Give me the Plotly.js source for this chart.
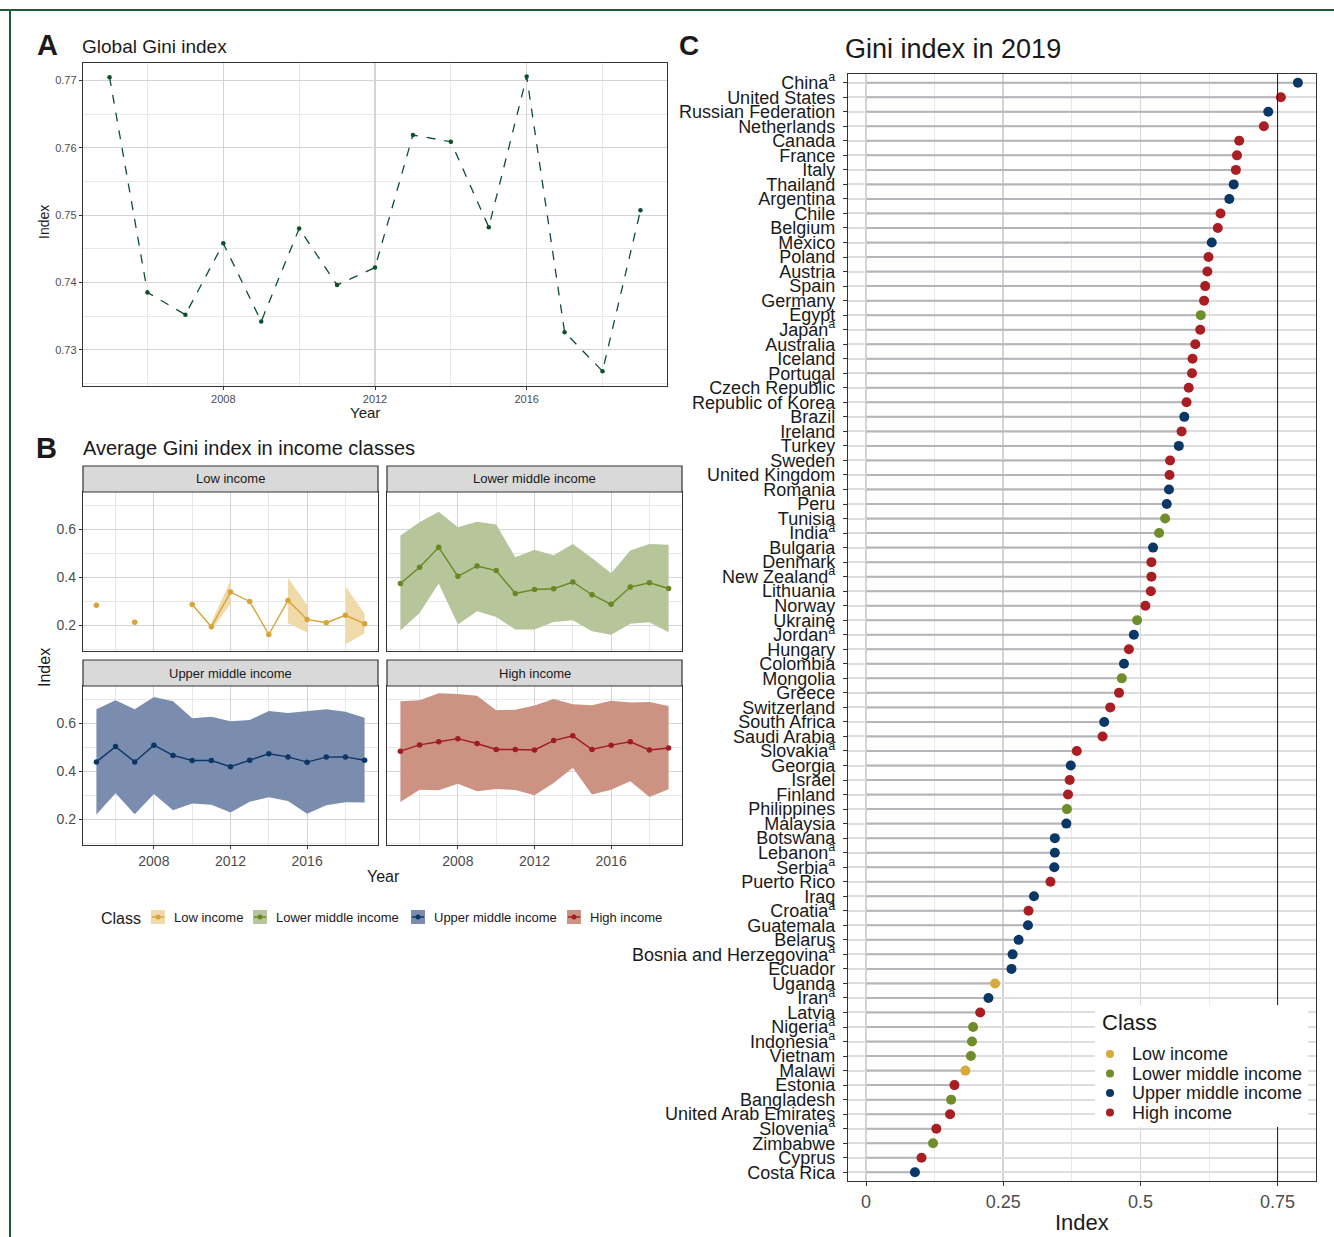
<!DOCTYPE html>
<html><head><meta charset="utf-8">
<script src="https://cdn.plot.ly/plotly-3.0.1.min.js"></script>
<style>html,body{margin:0;padding:0;background:#fff}#chart{width:1334px;height:1237px}</style>
</head><body><div id="chart"></div>
<script>
// ---------- DATA ----------
const years = [2005,2006,2007,2008,2009,2010,2011,2012,2013,2014,2015,2016,2017,2018,2019];
const globalGini = [0.7705,0.7385,0.7352,0.7458,0.7342,0.7480,0.7396,0.7422,0.7619,0.7609,0.7482,0.7706,0.7326,0.7268,0.7507];

const classNames = ['Low income','Lower middle income','Upper middle income','High income'];
const classCodes = ['L','LM','UM','H'];

const lowMean  = [0.284,null,0.213,null,null,0.287,0.194,0.339,0.300,0.162,0.304,0.225,0.211,0.242,0.207];
const lowLower = [null,null,null,null,null,null,0.178,0.291,null,null,0.209,0.170,null,0.121,0.167];
const lowUpper = [null,null,null,null,null,null,0.212,0.387,null,null,0.399,0.285,null,0.363,0.249];

const lmMean  = [0.375,0.443,0.526,0.405,0.448,0.429,0.333,0.350,0.353,0.381,0.328,0.288,0.360,0.378,0.354];
const lmLower = [0.179,0.252,0.375,0.204,0.259,0.235,0.183,0.183,0.214,0.221,0.175,0.161,0.207,0.213,0.171];
const lmUpper = [0.575,0.631,0.675,0.610,0.633,0.621,0.484,0.516,0.493,0.540,0.481,0.418,0.513,0.540,0.537];

const umMean  = [0.440,0.504,0.440,0.510,0.467,0.446,0.446,0.420,0.447,0.474,0.461,0.439,0.460,0.461,0.447];
const umLower = [0.220,0.309,0.221,0.306,0.238,0.266,0.261,0.229,0.274,0.292,0.277,0.224,0.259,0.272,0.270];
const umUpper = [0.660,0.698,0.660,0.711,0.693,0.622,0.629,0.610,0.615,0.653,0.644,0.651,0.660,0.649,0.624];

const hiMean  = [0.485,0.511,0.524,0.537,0.517,0.492,0.492,0.490,0.529,0.549,0.492,0.510,0.524,0.490,0.498];
const hiLower = [0.273,0.324,0.322,0.349,0.317,0.327,0.323,0.301,0.352,0.416,0.304,0.324,0.359,0.293,0.326];
const hiUpper = [0.693,0.698,0.727,0.724,0.716,0.656,0.658,0.676,0.703,0.681,0.677,0.695,0.688,0.690,0.673];

const countries = ['China','United States','Russian Federation','Netherlands','Canada','France','Italy','Thailand','Argentina','Chile','Belgium','Mexico','Poland','Austria','Spain','Germany','Egypt','Japan','Australia','Iceland','Portugal','Czech Republic','Republic of Korea','Brazil','Ireland','Turkey','Sweden','United Kingdom','Romania','Peru','Tunisia','India','Bulgaria','Denmark','New Zealand','Lithuania','Norway','Ukraine','Jordan','Hungary','Colombia','Mongolia','Greece','Switzerland','South Africa','Saudi Arabia','Slovakia','Georgia','Israel','Finland','Philippines','Malaysia','Botswana','Lebanon','Serbia','Puerto Rico','Iraq','Croatia','Guatemala','Belarus','Bosnia and Herzegovina','Ecuador','Uganda','Iran','Latvia','Nigeria','Indonesia','Vietnam','Malawi','Estonia','Bangladesh','United Arab Emirates','Slovenia','Zimbabwe','Cyprus','Costa Rica'];
const gini2019 = [0.787,0.756,0.733,0.725,0.680,0.676,0.674,0.670,0.662,0.646,0.641,0.630,0.624,0.622,0.618,0.616,0.610,0.609,0.600,0.595,0.594,0.588,0.584,0.580,0.575,0.570,0.554,0.553,0.552,0.548,0.545,0.534,0.523,0.520,0.520,0.519,0.509,0.494,0.488,0.479,0.470,0.466,0.461,0.445,0.434,0.431,0.384,0.373,0.371,0.368,0.366,0.365,0.344,0.344,0.343,0.336,0.306,0.296,0.295,0.278,0.267,0.265,0.235,0.223,0.208,0.195,0.193,0.191,0.181,0.161,0.155,0.153,0.128,0.122,0.101,0.089];
const countryClass = ['UM','H','UM','H','H','H','H','UM','UM','H','H','UM','H','H','H','H','LM','H','H','H','H','H','H','UM','H','UM','H','H','UM','UM','LM','LM','UM','H','H','H','H','LM','UM','H','UM','LM','H','H','UM','H','H','UM','H','H','LM','UM','UM','UM','UM','H','UM','H','UM','UM','UM','UM','L','UM','H','LM','LM','LM','L','H','LM','H','H','LM','H','UM'];
const footnoteA = ['China','Japan','India','New Zealand','Jordan','Slovakia','Lebanon','Serbia','Croatia','Bosnia and Herzegovina','Iran','Nigeria','Indonesia','Slovenia'];

// ---------- STYLE ----------
const W = 1334, H = 1237;
const FONT = 'Liberation Sans, Arial, Helvetica, sans-serif';
const lineColors   = ['#D6A43A','#6B8723','#0B3766','#A01C22'];
const ribbonColors = ['#F0DAAA','#B7C59A','#7B8DAF','#CC9383'];
const dotColors    = ['#D9A93A','#6F8D2A','#0B3766','#A81E22'];
const fx = p => p / W;
const fy = p => 1 - p / H;

const traces = [];

// Panel A
traces.push({
  x: years, y: globalGini, xaxis: 'x', yaxis: 'y', type: 'scatter', mode: 'lines+markers',
  line: {color: '#0E4F2C', width: 1.3, dash: 'dash'},
  marker: {color: '#0E4F2C', size: 4.5}, showlegend: false, hoverinfo: 'skip'
});

// Panel B
const panelB = [
  {mean: lowMean, lo: lowLower, hi: lowUpper, ax: ['x2','y2']},
  {mean: lmMean,  lo: lmLower,  hi: lmUpper,  ax: ['x3','y3']},
  {mean: umMean,  lo: umLower,  hi: umUpper,  ax: ['x4','y4']},
  {mean: hiMean,  lo: hiLower,  hi: hiUpper,  ax: ['x5','y5']}
];
panelB.forEach((p, ci) => {
  let seg = [];
  const flush = () => {
    if (seg.length >= 2) {
      const rev = seg.slice().reverse();
      const xs = seg.map(i => years[i]).concat(rev.map(i => years[i]));
      const ys = seg.map(i => p.hi[i]).concat(rev.map(i => p.lo[i]));
      traces.push({x: xs, y: ys, xaxis: p.ax[0], yaxis: p.ax[1], type: 'scatter', mode: 'lines',
        fill: 'toself', fillcolor: ribbonColors[ci], line: {width: 0}, showlegend: false, hoverinfo: 'skip'});
    }
    seg = [];
  };
  years.forEach((yr, i) => {
    if (p.lo[i] !== null && p.hi[i] !== null) seg.push(i); else flush();
  });
  flush();
  traces.push({x: years, y: p.mean, xaxis: p.ax[0], yaxis: p.ax[1], type: 'scatter', mode: 'lines+markers',
    connectgaps: false, line: {color: lineColors[ci], width: 1.4}, marker: {color: lineColors[ci], size: 5.5},
    showlegend: false, hoverinfo: 'skip'});
});

// Panel C stems + dots
const stemX = [], stemY = [];
countries.forEach((c, i) => { stemX.push(0, gini2019[i], null); stemY.push(c, c, null); });
traces.push({x: stemX, y: stemY, xaxis: 'x6', yaxis: 'y6', type: 'scatter', mode: 'lines',
  line: {color: '#B4B4BA', width: 2}, showlegend: false, hoverinfo: 'skip'});
classCodes.forEach((code, ci) => {
  const idx = countries.map((c, i) => i).filter(i => countryClass[i] === code);
  traces.push({x: idx.map(i => gini2019[i]), y: idx.map(i => countries[i]), xaxis: 'x6', yaxis: 'y6',
    type: 'scatter', mode: 'markers', name: classNames[ci], showlegend: false,
    marker: {color: dotColors[ci], size: 10}, hoverinfo: 'skip'});
});

// ---------- LAYOUT ----------
const baseAxis = {
  showline: true, mirror: true, linecolor: '#333', linewidth: 1.2,
  ticks: 'outside', ticklen: 3, tickcolor: '#333', tickwidth: 1,
  gridcolor: '#D4D4D4', gridwidth: 1.1, zeroline: false,
  tickfont: {family: FONT, color: '#4D4D4D', size: 14}
};
const minorGrid = vals => ({tickvals: vals, showgrid: true, gridcolor: '#E6E6E6', gridwidth: 0.9, ticks: ''});
const yearAxis = (dom, labels) => Object.assign({}, baseAxis, {
  domain: dom, range: [2004.3, 2019.7], tickvals: [2008, 2012, 2016],
  showticklabels: labels, ticks: labels ? 'outside' : '',
  minor: minorGrid([2006, 2010, 2014, 2018])
});
const bYAxis = (dom, labels, anchor) => Object.assign({}, baseAxis, {
  domain: dom, range: [0.093, 0.757], tickvals: [0.2, 0.4, 0.6], ticktext: ['0.2','0.4','0.6'],
  showticklabels: labels, ticks: labels ? 'outside' : '', anchor: anchor,
  minor: minorGrid([0.1, 0.3, 0.5, 0.7])
});

const colL = [fx(83), fx(378)], colR = [fx(387), fx(682)];
const row1 = [fy(651), fy(492)], row2 = [fy(845), fy(686)];

const countryTicks = countries.map(c => footnoteA.includes(c) ? c + '<sup>a</sup>' : c);

const layout = {
  width: W, height: H, margin: {l: 0, r: 0, t: 0, b: 0},
  paper_bgcolor: '#fff', plot_bgcolor: '#fff',
  font: {family: FONT, color: '#1a1a1a'},
  showlegend: false,
  xaxis: Object.assign({}, baseAxis, {domain: [fx(83), fx(667)], anchor: 'y', range: [2004.3, 2019.7],
    tickvals: [2008, 2012, 2016], tickfont: {family: FONT, color: '#4D4D4D', size: 11},
    minor: minorGrid([2006, 2010, 2014, 2018])}),
  yaxis: Object.assign({}, baseAxis, {domain: [fy(386), fy(63)], anchor: 'x', range: [0.7246, 0.7726],
    tickvals: [0.73, 0.74, 0.75, 0.76, 0.77], ticktext: ['0.73','0.74','0.75','0.76','0.77'],
    tickfont: {family: FONT, color: '#4D4D4D', size: 11},
    minor: minorGrid([0.725, 0.735, 0.745, 0.755, 0.765])}),
  xaxis2: Object.assign(yearAxis(colL, false), {anchor: 'y2'}),
  yaxis2: bYAxis(row1, true, 'x2'),
  xaxis3: Object.assign(yearAxis(colR, false), {anchor: 'y3'}),
  yaxis3: bYAxis(row1, false, 'x3'),
  xaxis4: Object.assign(yearAxis(colL, true), {anchor: 'y4'}),
  yaxis4: bYAxis(row2, true, 'x4'),
  xaxis5: Object.assign(yearAxis(colR, true), {anchor: 'y5'}),
  yaxis5: bYAxis(row2, false, 'x5'),
  xaxis6: Object.assign({}, baseAxis, {domain: [fx(848), fx(1316)], anchor: 'y6', range: [-0.033, 0.82],
    tickvals: [0, 0.25, 0.5, 0.75], ticktext: ['0','0.25','0.5','0.75'], ticklen: 4,
    tickfont: {family: FONT, color: '#4D4D4D', size: 18}, gridwidth: 1.6, gridcolor: '#D4D4D4',
    minor: {tickvals: [0.125, 0.375, 0.625], showgrid: true, gridcolor: '#E8E8E8', gridwidth: 1, ticks: ''}}),
  yaxis6: Object.assign({}, baseAxis, {domain: [fy(1181), fy(74)], anchor: 'x6', type: 'category',
    categoryorder: 'array', categoryarray: countries.slice().reverse(), range: [-0.6, countries.length - 0.4],
    tickvals: countries, ticktext: countryTicks, ticklen: 4, ticklabelstandoff: 4,
    gridcolor: '#DEDEDE', gridwidth: 2,
    tickfont: {family: FONT, color: '#1a1a1a', size: 18}}),
  shapes: [],
  annotations: []
};

// frame
layout.shapes.push({type: 'line', xref: 'paper', yref: 'paper', x0: 0, x1: 1, y0: fy(10), y1: fy(10), line: {color: '#1E5B36', width: 2}});
layout.shapes.push({type: 'line', xref: 'paper', yref: 'paper', x0: fx(10), x1: fx(10), y0: 0, y1: fy(10), line: {color: '#1E5B36', width: 2}});
// 0.75 reference line
layout.shapes.push({type: 'line', xref: 'x6', yref: 'y6 domain', x0: 0.75, x1: 0.75, y0: 0, y1: 1, line: {color: '#1a1a1a', width: 1}});

// strips
const strips = [
  {t: classNames[0], c: [83, 378], r: [466, 492]},
  {t: classNames[1], c: [387, 682], r: [466, 492]},
  {t: classNames[2], c: [83, 378], r: [660, 686]},
  {t: classNames[3], c: [387, 682], r: [660, 686]}
];
strips.forEach(s => {
  layout.shapes.push({type: 'rect', xref: 'paper', yref: 'paper', x0: fx(s.c[0]), x1: fx(s.c[1]), y0: fy(s.r[1]), y1: fy(s.r[0]),
    fillcolor: '#D9D9D9', line: {color: '#333', width: 1.2}});
  layout.annotations.push({xref: 'paper', yref: 'paper', x: fx((s.c[0] + s.c[1]) / 2), y: fy((s.r[0] + s.r[1]) / 2),
    text: s.t, showarrow: false, xanchor: 'center', yanchor: 'middle', font: {family: FONT, size: 13, color: '#1a1a1a'}});
});

// text helpers
const ann = (x, y, text, size, opts) => layout.annotations.push(Object.assign({xref: 'paper', yref: 'paper', x: fx(x), y: fy(y),
  text: text, showarrow: false, xanchor: 'left', yanchor: 'middle', font: {family: FONT, size: size, color: '#1a1a1a'}}, opts || {}));
ann(35, 45, '<b>A</b>', 29);
ann(80, 47, 'Global Gini index', 19);
ann(44, 222, 'Index', 14, {xanchor: 'center', textangle: -90});
ann(365, 412, 'Year', 15, {xanchor: 'center'});
ann(34, 448, '<b>B</b>', 29);
ann(81, 448, 'Average Gini index in income classes', 20);
ann(44, 668, 'Index', 16, {xanchor: 'center', textangle: -90});
ann(384, 876, 'Year', 16, {xanchor: 'center'});
ann(677, 45, '<b>C</b>', 28);
ann(843, 49, 'Gini index in 2019', 27);
ann(1082, 1222, 'Index', 22, {xanchor: 'center'});

// Panel B legend (keys)
ann(99, 918, 'Class', 16);
const keyLeft = [151, 253, 411, 567];
classNames.forEach((name, ci) => {
  const k = keyLeft[ci];
  layout.shapes.push({type: 'rect', xref: 'paper', yref: 'paper', x0: fx(k), x1: fx(k + 14), y0: fy(924), y1: fy(910),
    fillcolor: ribbonColors[ci], line: {width: 0}});
  layout.shapes.push({type: 'line', xref: 'paper', yref: 'paper', x0: fx(k + 1), x1: fx(k + 13), y0: fy(917), y1: fy(917),
    line: {color: lineColors[ci], width: 1.4}});
  layout.shapes.push({type: 'circle', xref: 'paper', yref: 'paper', x0: fx(k + 4.5), x1: fx(k + 9.5), y0: fy(919.5), y1: fy(914.5),
    fillcolor: lineColors[ci], line: {width: 0}});
  ann(k + 21, 917, name, 13);
});

// Panel C legend (white box with keys)
layout.shapes.push({type: 'rect', xref: 'paper', yref: 'paper', x0: fx(1095), x1: fx(1308), y0: fy(1127), y1: fy(1005),
  fillcolor: '#fff', line: {width: 0}, layer: 'above'});
ann(1100, 1022, 'Class', 22);
classNames.forEach((name, ci) => {
  const yy = 1054 + ci * 19.5;
  layout.shapes.push({type: 'circle', xref: 'paper', yref: 'paper', x0: fx(1106), x1: fx(1114), y0: fy(yy + 4), y1: fy(yy - 4),
    fillcolor: dotColors[ci], line: {width: 0}, layer: 'above'});
  ann(1130, yy, name, 18);
});

Plotly.newPlot('chart', traces, layout, {staticPlot: true, displayModeBar: false});
</script>
</body></html>
